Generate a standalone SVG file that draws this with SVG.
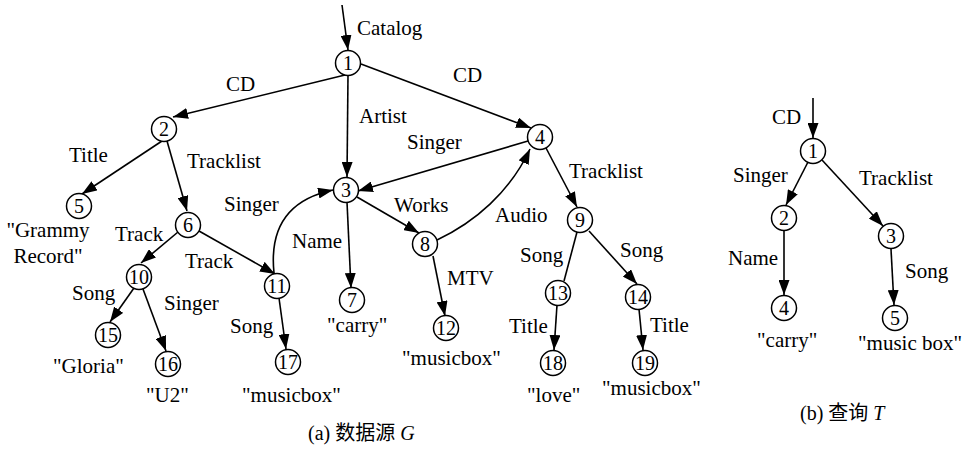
<svg xmlns="http://www.w3.org/2000/svg" width="970" height="455" viewBox="0 0 970 455">
<defs>
<marker id="ah" markerUnits="userSpaceOnUse" markerWidth="15" markerHeight="11" refX="15" refY="5.5" orient="auto">
<path d="M0,0 L15,5.5 L0,11 z" fill="#000"/>
</marker>
</defs>
<style>
.n circle{fill:#fff;stroke:#000;stroke-width:1.5}
.n text{font-size:20px;text-anchor:middle;fill:#000}
.e{stroke:#000;stroke-width:1.6;fill:none}
.a{marker-end:url(#ah)}
.l{font-size:21px;fill:#000}
.c{font-size:20px;fill:#000}
</style>
<rect width="970" height="455" fill="#fff"/>
<g id="edges">
<line class="e a" x1="342" y1="5" x2="348" y2="50"/>
<line class="e a" x1="345" y1="75" x2="173" y2="117"/>
<line class="e a" x1="361" y1="64" x2="531" y2="128"/>
<line class="e a" x1="348" y1="75" x2="347" y2="177"/>
<line class="e a" x1="528" y1="141" x2="358" y2="191"/>
<line class="e a" x1="357" y1="197" x2="419" y2="233"/>
<line class="e a" x1="347" y1="202" x2="351" y2="288"/>
<line class="e a" x1="433" y1="256" x2="445" y2="316"/>
<line class="e a" x1="546" y1="148" x2="577" y2="207"/>
<line class="e" x1="577" y1="232" x2="564" y2="281"/>
<line class="e a" x1="589" y1="231" x2="637" y2="284"/>
<line class="e a" x1="557" y1="305" x2="554" y2="350"/>
<line class="e a" x1="639" y1="309" x2="643" y2="350"/>
<line class="e a" x1="162" y1="141" x2="82" y2="194"/>
<line class="e a" x1="167" y1="141" x2="187" y2="211"/>
<line class="e a" x1="178" y1="232" x2="141" y2="263"/>
<line class="e a" x1="199" y1="231" x2="275" y2="274"/>
<line class="e a" x1="134" y1="288" x2="110" y2="322"/>
<line class="e a" x1="143" y1="289" x2="166" y2="351"/>
<line class="e a" x1="279" y1="298" x2="286" y2="349"/>
<path class="e a" d="M274,273 C269,225 290,199 333,190"/>
<path class="e a" d="M437,240 C475,222 510,192 530,149"/>
<line class="e a" x1="813" y1="98" x2="813" y2="138"/>
<line class="e a" x1="808" y1="162" x2="786" y2="205"/>
<line class="e a" x1="822" y1="160" x2="883" y2="226"/>
<line class="e a" x1="784" y1="231" x2="784" y2="295"/>
<line class="e a" x1="891" y1="249" x2="894" y2="305"/>
</g>
<g font-family="'Liberation Serif', 'Times New Roman', 'DejaVu Serif', serif">
<g id="n1" class="n"><circle cx="348" cy="63" r="12.5"/><text x="348" y="70">1</text></g>
<g id="n2" class="n"><circle cx="164" cy="129" r="12.5"/><text x="164" y="136">2</text></g>
<g id="n3" class="n"><circle cx="346" cy="190" r="12.5"/><text x="346" y="197">3</text></g>
<g id="n4" class="n"><circle cx="540" cy="137" r="12.5"/><text x="540" y="144">4</text></g>
<g id="n5" class="n"><circle cx="79" cy="206" r="12.5"/><text x="79" y="213">5</text></g>
<g id="n6" class="n"><circle cx="188" cy="225" r="12.5"/><text x="188" y="232">6</text></g>
<g id="n7" class="n"><circle cx="352" cy="300" r="12.5"/><text x="352" y="307">7</text></g>
<g id="n8" class="n"><circle cx="425" cy="244" r="12.5"/><text x="425" y="251">8</text></g>
<g id="n9" class="n"><circle cx="580" cy="220" r="12.5"/><text x="580" y="227">9</text></g>
<g id="n10" class="n"><circle cx="139" cy="277" r="12.5"/><text x="139" y="284">10</text></g>
<g id="n11" class="n"><circle cx="277" cy="286" r="12.5"/><text x="277" y="293">11</text></g>
<g id="n12" class="n"><circle cx="446" cy="328" r="12.5"/><text x="446" y="335">12</text></g>
<g id="n13" class="n"><circle cx="558" cy="293" r="12.5"/><text x="558" y="300">13</text></g>
<g id="n14" class="n"><circle cx="638" cy="297" r="12.5"/><text x="638" y="304">14</text></g>
<g id="n15" class="n"><circle cx="108" cy="335" r="12.5"/><text x="108" y="342">15</text></g>
<g id="n16" class="n"><circle cx="168" cy="364" r="12.5"/><text x="168" y="371">16</text></g>
<g id="n17" class="n"><circle cx="288" cy="362" r="12.5"/><text x="288" y="369">17</text></g>
<g id="n18" class="n"><circle cx="553" cy="363" r="12.5"/><text x="553" y="370">18</text></g>
<g id="n19" class="n"><circle cx="645" cy="363" r="12.5"/><text x="645" y="370">19</text></g>
<g id="q1" class="n"><circle cx="813" cy="151" r="12.5"/><text x="813" y="158">1</text></g>
<g id="q2" class="n"><circle cx="784" cy="218" r="12.5"/><text x="784" y="225">2</text></g>
<g id="q3" class="n"><circle cx="891" cy="236" r="12.5"/><text x="891" y="243">3</text></g>
<g id="q4" class="n"><circle cx="784" cy="308" r="12.5"/><text x="784" y="315">4</text></g>
<g id="q5" class="n"><circle cx="895" cy="318" r="12.5"/><text x="895" y="325">5</text></g>
<g id="labels">
<text class="l" x="357" y="35">Catalog</text>
<text class="l" x="226" y="91">CD</text>
<text class="l" x="453" y="82">CD</text>
<text class="l" x="359" y="123">Artist</text>
<text class="l" x="407" y="149">Singer</text>
<text class="l" x="569" y="178">Tracklist</text>
<text class="l" x="394" y="212">Works</text>
<text class="l" x="495" y="222">Audio</text>
<text class="l" x="69" y="162">Title</text>
<text class="l" x="187" y="168">Tracklist</text>
<text class="l" x="224" y="211">Singer</text>
<text class="l" x="48" y="237" text-anchor="middle">"Grammy</text>
<text class="l" x="48" y="263" text-anchor="middle">Record"</text>
<text class="l" x="115" y="241">Track</text>
<text class="l" x="185" y="268">Track</text>
<text class="l" x="72" y="300">Song</text>
<text class="l" x="164" y="310">Singer</text>
<text class="l" x="230" y="333">Song</text>
<text class="l" x="53" y="373">"Gloria"</text>
<text class="l" x="146" y="402">"U2"</text>
<text class="l" x="242" y="402">"musicbox"</text>
<text class="l" x="292" y="248">Name</text>
<text class="l" x="327" y="332">"carry"</text>
<text class="l" x="447" y="285">MTV</text>
<text class="l" x="402" y="365">"musicbox"</text>
<text class="l" x="520" y="262">Song</text>
<text class="l" x="620" y="257">Song</text>
<text class="l" x="509" y="333">Title</text>
<text class="l" x="527" y="402">"love"</text>
<text class="l" x="650" y="332">Title</text>
<text class="l" x="602" y="395">"musicbox"</text>
<text class="l" x="772" y="124">CD</text>
<text class="l" x="733" y="182">Singer</text>
<text class="l" x="859" y="185">Tracklist</text>
<text class="l" x="728" y="265">Name</text>
<text class="l" x="905" y="278">Song</text>
<text class="l" x="757" y="347">"carry"</text>
<text class="l" x="858" y="350">"music box"</text>
</g>
<g id="captions" font-family="'Liberation Serif', 'Times New Roman', 'Noto Sans CJK SC', serif">
<text class="c" x="308" y="440">(a) 数据源 <tspan font-style="italic">G</tspan></text>
<text class="c" x="800" y="420">(b) 查询 <tspan font-style="italic">T</tspan></text>
</g>
</g>
</svg>
